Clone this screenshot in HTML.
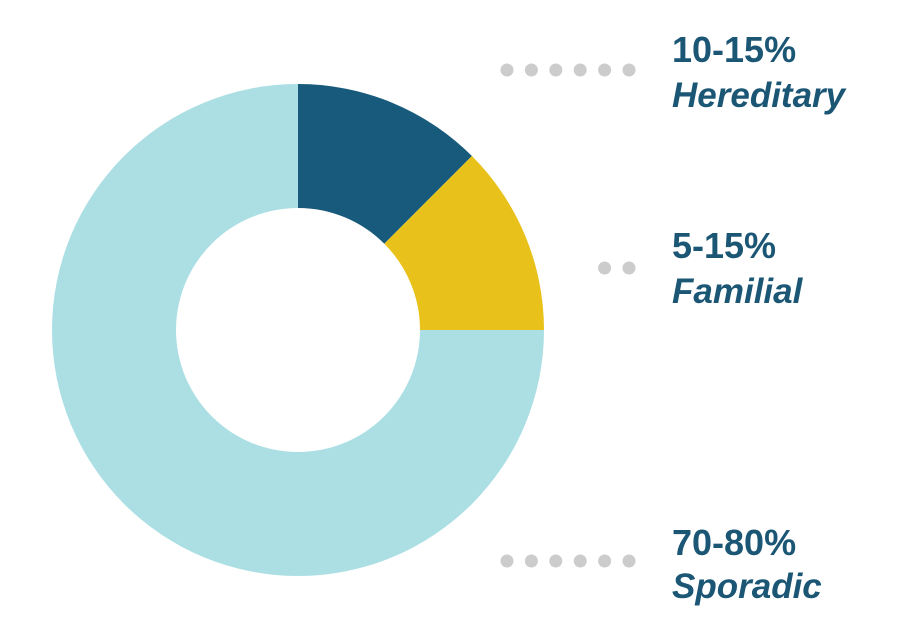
<!DOCTYPE html>
<html><head><meta charset="utf-8"><style>
body{margin:0;background:#fff;}
svg{display:block;}
.lbl{font-family:"Liberation Sans",sans-serif;fill:#1b5675;}
</style></head><body>
<svg id="chart" width="898" height="628" viewBox="0 0 898 628">
<g id="slices"></g>
<g id="dots"></g>
<g>
<text class="lbl" x="672" y="62" font-size="36" font-weight="bold">10-15%</text>
<text class="lbl" x="672" y="107" font-size="35" font-style="italic" font-weight="bold">Hereditary</text>
<text class="lbl" x="672" y="258" font-size="36" font-weight="bold">5-15%</text>
<text class="lbl" x="672" y="303" font-size="35" font-style="italic" font-weight="bold">Familial</text>
<text class="lbl" x="672" y="555" font-size="36" font-weight="bold">70-80%</text>
<text class="lbl" x="672" y="598" font-size="35" font-style="italic" font-weight="bold">Sporadic</text>
</g>
</svg>
<script>
const categories = ["Hereditary", "Familial", "Sporadic"];
const values = [12.5, 12.5, 75];
const colors = ["#175a7b", "#e8c21a", "#acdfe4"];
const dotCounts = [6, 2, 6];

const NS = "http://www.w3.org/2000/svg";
const cx = 298, cy = 330, R = 246, r = 122;
const total = values.reduce((a, b) => a + b, 0);
const angleOf = v => v / total * 2 * Math.PI;
const pt = (rad, a) => [cx + rad * Math.sin(a), cy - rad * Math.cos(a)];
let acc = 0;
const g = document.getElementById("slices");
values.forEach((v, i) => {
  const a0 = angleOf(acc), a1 = angleOf(acc + v);
  acc += v;
  const large = (a1 - a0) > Math.PI ? 1 : 0;
  const [x0, y0] = pt(R, a0), [x1, y1] = pt(R, a1), [x2, y2] = pt(r, a1), [x3, y3] = pt(r, a0);
  const p = document.createElementNS(NS, "path");
  p.setAttribute("d", `M${x0},${y0} A${R},${R} 0 ${large} 1 ${x1},${y1} L${x2},${y2} A${r},${r} 0 ${large} 0 ${x3},${y3} Z`);
  p.setAttribute("fill", colors[i]);
  
  
  g.appendChild(p);
});
const dg = document.getElementById("dots");
const dotY = [70, 268, 561];
dotCounts.forEach((n, i) => {
  for (let k = 0; k < n; k++) {
    const c = document.createElementNS(NS, "circle");
    c.setAttribute("cx", 629 - k * 24.4);
    c.setAttribute("cy", dotY[i]);
    c.setAttribute("r", 6.5);
    c.setAttribute("fill", "#cccccc");
    
    
    dg.appendChild(c);
  }
});
</script>
</body></html>
